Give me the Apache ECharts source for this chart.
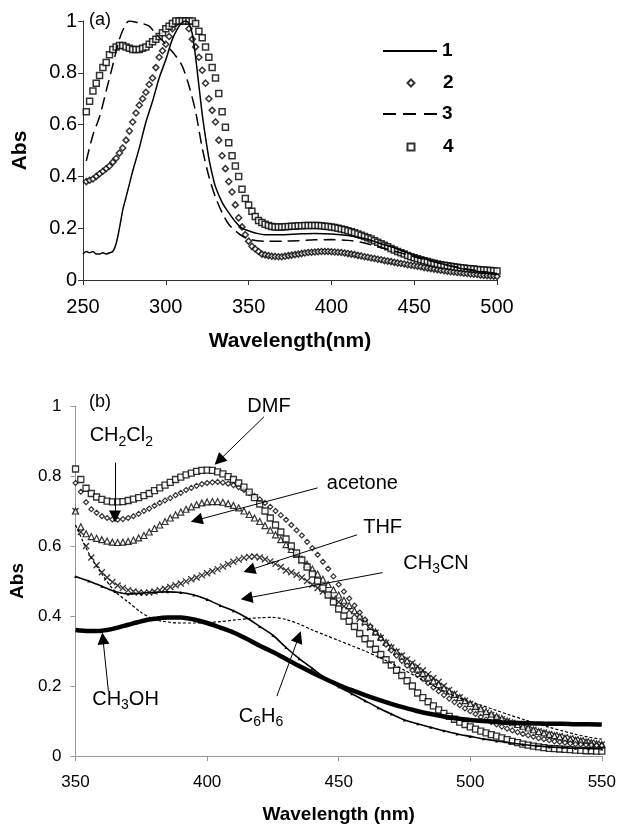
<!DOCTYPE html>
<html>
<head>
<meta charset="utf-8">
<script src="https://cdn.jsdelivr.net/npm/echarts@6/dist/echarts.min.js"></script>
<style>
html, body { margin: 0; padding: 0; background: #fff; }
#main { width: 619px; height: 825px; }
</style>
</head>
<body>
<div id="main"></div>
<script>
// ---- panel (a): absorbance of compounds 1-4 ----
var wlA = [252,254,256,258,260,262,264,266,268,270,272,274,276,278,280,282,284,286,288,290,
  292,294,296,298,300,302,304,306,308,310,312,314,316,318,320,322,324,326,328,330,
  332,334,336,338,340,342,344,346,348,350,352,354,356,358,360,362,364,366,368,370,
  372,374,376,378,380,382,384,386,388,390,392,394,396,398,400,402,404,406,408,410,
  412,414,416,418,420,422,424,426,428,430,432,434,436,438,440,442,444,446,448,450,
  452,454,456,458,460,462,464,466,468,470,472,474,476,478,480,482,484,486,488,490,
  492,494,496,498,500];
var abs2 = [0.38,0.385,0.39,0.40,0.41,0.42,0.43,0.44,0.455,0.47,
  0.49,0.51,0.54,0.575,0.61,0.645,0.675,0.70,0.725,0.755,
  0.78,0.82,0.86,0.885,0.91,0.94,0.97,0.99,1.0,1.0,
  1.0,0.97,0.93,0.90,0.86,0.81,0.76,0.70,0.655,0.61,
  0.54,0.48,0.43,0.38,0.34,0.29,0.24,0.205,0.175,0.15,
  0.13,0.12,0.11,0.10,0.097,0.094,0.092,0.091,0.09,0.09,
  0.092,0.094,0.096,0.098,0.10,0.102,0.104,0.106,0.107,0.108,
  0.109,0.11,0.11,0.11,0.109,0.108,0.107,0.106,0.104,0.102,
  0.10,0.098,0.095,0.093,0.09,0.088,0.085,0.083,0.08,0.078,
  0.075,0.073,0.071,0.068,0.066,0.064,0.062,0.059,0.057,0.055,
  0.053,0.051,0.048,0.046,0.044,0.042,0.04,0.038,0.036,0.034,
  0.032,0.031,0.029,0.028,0.026,0.025,0.023,0.022,0.021,0.019,
  0.018,0.017,0.016,0.015,0.014];
var abs4 = [0.65,0.69,0.73,0.76,0.79,0.82,0.84,0.87,0.89,0.90,
  0.905,0.905,0.90,0.895,0.89,0.89,0.89,0.895,0.90,0.91,
  0.92,0.93,0.94,0.955,0.97,0.98,0.99,1.0,1.0,1.0,
  1.0,1.0,1.0,0.99,0.96,0.935,0.90,0.86,0.82,0.78,
  0.72,0.65,0.59,0.53,0.48,0.44,0.40,0.35,0.315,0.29,
  0.265,0.245,0.23,0.222,0.215,0.21,0.207,0.205,0.205,0.205,
  0.206,0.207,0.208,0.208,0.209,0.209,0.21,0.21,0.21,0.21,
  0.21,0.209,0.208,0.207,0.205,0.203,0.20,0.197,0.194,0.19,
  0.186,0.182,0.178,0.173,0.168,0.163,0.158,0.152,0.146,0.14,
  0.134,0.128,0.122,0.116,0.11,0.105,0.10,0.095,0.09,0.086,
  0.082,0.078,0.074,0.071,0.068,0.065,0.062,0.059,0.057,0.055,
  0.053,0.051,0.049,0.047,0.046,0.044,0.043,0.042,0.041,0.04,
  0.039,0.038,0.037,0.036,0.035];
var wl1 = [250,252,254,256,258,260,262,264,266,268,270,272,274,276,278,280,
  284,288,292,296,300,304,308,310,312,314,316,318,320,322,324,326,328,330,
  334,338,342,346,350,355,360,370,380,390,400,410,420,430,440,450,460,470,480,490,500];
var abs1 = [0.10,0.11,0.105,0.11,0.10,0.10,0.105,0.10,0.105,0.11,0.14,0.20,0.27,0.32,0.37,0.42,
  0.51,0.61,0.69,0.78,0.85,0.93,0.98,0.995,1.0,0.99,0.95,0.86,0.75,0.64,0.55,0.47,0.41,0.36,
  0.30,0.26,0.225,0.20,0.19,0.18,0.175,0.175,0.178,0.18,0.178,0.172,0.16,0.14,0.12,0.095,0.075,0.057,0.042,0.032,0.025];
var wl3 = [252,256,260,264,268,272,276,278,282,286,290,294,298,302,306,310,314,318,322,326,
  330,334,338,342,346,350,355,360,370,380,390,400,410,420,430,440,450,460,470,480,490,500];
var abs3 = [0.46,0.56,0.63,0.73,0.83,0.93,0.99,1.0,0.995,0.99,0.98,0.95,0.925,0.895,0.865,0.825,0.75,0.65,0.51,0.40,
  0.32,0.26,0.215,0.19,0.17,0.158,0.152,0.15,0.15,0.152,0.155,0.156,0.153,0.143,0.125,0.108,0.09,0.073,0.058,0.045,0.034,0.025];

// ---- panel (b): absorbance in different solvents ----
var wlB = [350,352,354,356,358,360,362,364,366,368,370,372,374,376,378,380,382,384,386,388,
  390,392,394,396,398,400,402,404,406,408,410,412,414,416,418,420,422,424,426,428,
  430,432,434,436,438,440,442,444,446,448,450,452,454,456,458,460,462,464,466,468,
  470,472,474,476,478,480,482,484,486,488,490,492,494,496,498,500,502,504,506,508,
  510,512,514,516,518,520,522,524,526,528,530,532,534,536,538,540,542,544,546,548,550];
var dmf = [0.82,0.79,0.765,0.75,0.74,0.733,0.728,0.726,0.726,0.727,
  0.73,0.734,0.738,0.744,0.75,0.758,0.766,0.774,0.782,0.79,
  0.797,0.803,0.808,0.813,0.816,0.817,0.816,0.812,0.806,0.798,
  0.79,0.78,0.768,0.754,0.738,0.72,0.70,0.68,0.66,0.64,
  0.62,0.60,0.58,0.56,0.54,0.52,0.50,0.48,0.46,0.44,
  0.42,0.40,0.385,0.37,0.35,0.335,0.32,0.305,0.29,0.275,
  0.26,0.245,0.23,0.215,0.20,0.18,0.167,0.155,0.143,0.132,
  0.122,0.113,0.105,0.097,0.09,0.083,0.077,0.071,0.066,0.061,
  0.057,0.052,0.047,0.042,0.038,0.034,0.031,0.028,0.026,0.024,
  0.022,0.021,0.02,0.019,0.018,0.017,0.016,0.015,0.015,0.014,0.014];
var ch2cl2 = [0.78,0.755,0.725,0.705,0.695,0.685,0.68,0.676,0.675,0.677,
  0.68,0.685,0.692,0.70,0.707,0.715,0.723,0.73,0.737,0.745,
  0.752,0.76,0.766,0.772,0.777,0.78,0.782,0.783,0.781,0.778,
  0.774,0.768,0.76,0.752,0.743,0.733,0.723,0.712,0.70,0.688,
  0.675,0.66,0.645,0.63,0.612,0.594,0.575,0.555,0.535,0.513,
  0.49,0.47,0.45,0.43,0.41,0.39,0.37,0.352,0.335,0.318,
  0.302,0.287,0.272,0.258,0.245,0.232,0.22,0.208,0.196,0.185,
  0.174,0.164,0.154,0.145,0.136,0.128,0.12,0.112,0.104,0.097,
  0.09,0.084,0.078,0.073,0.068,0.063,0.059,0.055,0.051,0.048,
  0.045,0.042,0.04,0.038,0.036,0.034,0.033,0.032,0.031,0.03,0.03];
var acetone = [0.70,0.655,0.635,0.627,0.622,0.618,0.614,0.611,0.61,0.611,
  0.613,0.617,0.623,0.63,0.64,0.65,0.66,0.67,0.68,0.689,
  0.697,0.705,0.712,0.718,0.723,0.726,0.727,0.727,0.725,0.721,
  0.716,0.709,0.70,0.69,0.68,0.67,0.658,0.645,0.632,0.618,
  0.604,0.59,0.576,0.562,0.548,0.534,0.52,0.505,0.49,0.475,
  0.46,0.445,0.43,0.415,0.40,0.385,0.37,0.355,0.34,0.325,
  0.311,0.298,0.285,0.272,0.26,0.248,0.236,0.225,0.214,0.204,
  0.194,0.185,0.176,0.167,0.158,0.15,0.142,0.135,0.127,0.12,
  0.113,0.107,0.1,0.095,0.09,0.085,0.08,0.075,0.07,0.066,
  0.062,0.058,0.055,0.051,0.048,0.045,0.043,0.04,0.038,0.035,0.033];
var thf = [0.70,0.64,0.60,0.567,0.545,0.525,0.51,0.497,0.487,0.48,
  0.474,0.47,0.467,0.466,0.467,0.47,0.474,0.478,0.483,0.488,
  0.493,0.499,0.505,0.51,0.516,0.522,0.528,0.534,0.541,0.548,
  0.555,0.561,0.566,0.569,0.57,0.567,0.562,0.556,0.549,0.54,
  0.53,0.525,0.518,0.51,0.50,0.49,0.48,0.47,0.46,0.45,
  0.44,0.428,0.416,0.404,0.392,0.38,0.366,0.352,0.338,0.324,
  0.31,0.298,0.287,0.276,0.266,0.256,0.245,0.234,0.223,0.212,
  0.20,0.189,0.178,0.168,0.158,0.149,0.14,0.132,0.124,0.117,
  0.11,0.105,0.1,0.095,0.09,0.085,0.08,0.075,0.071,0.067,
  0.063,0.06,0.057,0.054,0.051,0.048,0.045,0.042,0.039,0.036,0.033];
var wlB5 = [350,355,360,365,370,375,380,385,390,395,400,405,410,415,420,425,430,435,440,445,
  450,455,460,465,470,475,480,485,490,495,500,505,510,515,520,525,530,535,540,545,550];
var ch3cn = [0.513,0.50,0.485,0.47,0.463,0.465,0.468,0.469,0.467,0.46,0.447,0.43,0.415,0.395,0.37,0.345,0.31,0.278,0.25,0.222,
  0.198,0.178,0.158,0.138,0.12,0.103,0.092,0.082,0.072,0.063,0.056,0.049,0.043,0.038,0.033,0.029,0.026,0.024,0.022,0.021,0.02];
var c6h6 = [0.66,0.58,0.52,0.47,0.44,0.41,0.39,0.383,0.38,0.38,0.381,0.384,0.388,0.392,0.395,0.396,0.39,0.377,0.36,0.345,
  0.33,0.315,0.30,0.283,0.265,0.245,0.225,0.205,0.185,0.168,0.155,0.143,0.13,0.117,0.105,0.093,0.082,0.072,0.062,0.054,0.048];
var ch3oh = [0.36,0.357,0.358,0.365,0.375,0.385,0.392,0.396,0.396,0.39,0.38,0.367,0.353,0.335,0.315,0.297,0.277,0.257,0.238,0.22,
  0.203,0.188,0.174,0.161,0.149,0.138,0.128,0.12,0.113,0.107,0.103,0.1,0.097,0.095,0.094,0.093,0.092,0.092,0.091,0.091,0.09];

// labels and arrows of panel (b), in data units [wavelength, abs]
var noteText = ['DMF', 'CH2Cl2', 'acetone', 'THF', 'CH3CN', 'CH3OH', 'C6H6'];
var notePos = [[423.5, 0.998], [367.4, 0.915], [459, 0.778], [466.7, 0.652], [487, 0.55], [369, 0.162], [420.5, 0.114]];
var arrowFrom = [[421.6, 0.969], [365, 0.838], [442, 0.766], [457, 0.632], [466.7, 0.524], [362.5, 0.185], [426.5, 0.171]];
var arrowTo = [[404.5, 0.844], [365, 0.684], [396, 0.674], [416, 0.531], [415, 0.451], [360.4, 0.336], [434.8, 0.34]];

var FONT = '"Liberation Sans", Arial, sans-serif';
var ICON_SOLID = 'path://M0,0h54v2h-54z';
var ICON_DASH = 'path://M0,0h13v2h-13zM20,0h13v2h-13zM41,0h13v2h-13z';

function pairs(xs, ys) {
    var out = [];
    for (var i = 0; i < ys.length; i++) {
        out.push([xs[i], ys[i]]);
    }
    return out;
}

// turn "CH2Cl2" into rich text with subscript digits
function chem(s) {
    return s.replace(/([A-Za-z]+)|(\d+)/g, function (m, letters, digits) {
        return letters ? '{n|' + letters + '}' : '{s|' + digits + '}';
    });
}

function legendItem(name, icon, top, isSymbol) {
    return {
        data: [{ name: name, icon: icon }],
        orient: 'vertical',
        padding: 0,
        left: isSymbol ? 406.5 : 383,
        top: top,
        itemWidth: isSymbol ? 7 : 54,
        itemHeight: isSymbol ? 7 : 2,
        selectedMode: false,
        textStyle: {
            fontFamily: FONT, fontWeight: 'bold', fontSize: 19, color: '#000',
            padding: isSymbol ? [0, 0, 0, 23.5] : 0
        }
    };
}

var myChart = echarts.init(document.getElementById('main'));

var markLines = [];
var markPoints = [];
for (var i = 0; i < noteText.length; i++) {
    markLines.push([{ coord: arrowFrom[i] }, { coord: arrowTo[i] }]);
    markPoints.push({ coord: notePos[i], label: { formatter: chem(noteText[i]) } });
}

var axisA = { color: '#333' };
var axisB = { color: '#999' };

myChart.setOption({
    animation: false,
    textStyle: { fontFamily: FONT },
    grid: [
        { left: 83, top: 21, width: 414, height: 259 },
        { left: 74, top: 406, width: 528, height: 351 }
    ],
    legend: [
        legendItem('1', ICON_SOLID, 41.5, false),
        legendItem('2', 'diamond', 73.5, true),
        legendItem('3', ICON_DASH, 104.5, false),
        legendItem('4', 'rect', 137.5, true)
    ],
    graphic: [
        { type: 'text', left: 89, top: 11, style: { text: '(a)', font: '18px ' + FONT, fill: '#000' } },
        { type: 'text', left: 89, top: 393, style: { text: '(b)', font: '18px ' + FONT, fill: '#000' } }
    ],
    xAxis: [{
        gridIndex: 0, type: 'value', min: 250, max: 500, interval: 50,
        name: 'Wavelength(nm)', nameLocation: 'middle', nameGap: 51,
        nameTextStyle: { fontFamily: FONT, fontWeight: 'bold', fontSize: 21, color: '#000' },
        axisLine: { lineStyle: axisA }, axisTick: { lineStyle: axisA },
        axisLabel: { fontFamily: FONT, fontSize: 20, color: '#000', margin: 17 },
        splitLine: { show: false }
    }, {
        gridIndex: 1, type: 'value', min: 350, max: 550, interval: 50,
        name: 'Wavelength (nm)', nameLocation: 'middle', nameGap: 49,
        nameTextStyle: { fontFamily: FONT, fontWeight: 'bold', fontSize: 19, color: '#000' },
        axisLine: { lineStyle: axisB }, axisTick: { lineStyle: axisB },
        axisLabel: { fontFamily: FONT, fontSize: 17, color: '#000', margin: 18 },
        splitLine: { show: false }
    }],
    yAxis: [{
        gridIndex: 0, type: 'value', min: 0, max: 1, interval: 0.2,
        name: 'Abs', nameLocation: 'middle', nameGap: 52,
        nameTextStyle: { fontFamily: FONT, fontWeight: 'bold', fontSize: 21, color: '#000' },
        axisLine: { show: true, lineStyle: axisA }, axisTick: { show: true, lineStyle: axisA },
        axisLabel: { fontFamily: FONT, fontSize: 20, color: '#000', margin: 6 },
        splitLine: { show: false }
    }, {
        gridIndex: 1, type: 'value', min: 0, max: 1, interval: 0.2,
        name: 'Abs', nameLocation: 'middle', nameGap: 45,
        nameTextStyle: { fontFamily: FONT, fontWeight: 'bold', fontSize: 19, color: '#000' },
        axisLine: { show: true, lineStyle: axisB }, axisTick: { show: true, lineStyle: axisB },
        axisLabel: { fontFamily: FONT, fontSize: 17, color: '#000', margin: 14 },
        splitLine: { show: false }
    }],
    series: [
        {
            name: '1', type: 'line', xAxisIndex: 0, yAxisIndex: 0, symbol: 'none', smooth: 0.3,
            lineStyle: { color: '#000', width: 1.5 }, itemStyle: { color: '#000' },
            data: pairs(wl1, abs1)
        },
        {
            name: '2', type: 'scatter', xAxisIndex: 0, yAxisIndex: 0, symbol: 'diamond', symbolSize: 6,
            itemStyle: { color: '#fff', borderColor: '#000', borderWidth: 1.5 },
            data: pairs(wlA, abs2)
        },
        {
            name: '3', type: 'line', xAxisIndex: 0, yAxisIndex: 0, symbol: 'none', smooth: 0.3,
            lineStyle: { color: '#000', width: 1.5, type: [12, 6] }, itemStyle: { color: '#000' },
            data: pairs(wl3, abs3)
        },
        {
            name: '4', type: 'scatter', xAxisIndex: 0, yAxisIndex: 0, symbol: 'rect', symbolSize: 6,
            itemStyle: { color: '#fff', borderColor: '#000', borderWidth: 1.5 },
            data: pairs(wlA, abs4)
        },
        {
            name: 'CH3OH', type: 'line', xAxisIndex: 1, yAxisIndex: 1, symbol: 'none', smooth: 0.3,
            lineStyle: { color: '#000', width: 4.5 },
            data: pairs(wlB5, ch3oh)
        },
        {
            name: 'C6H6', type: 'line', xAxisIndex: 1, yAxisIndex: 1, symbol: 'none', smooth: 0.3,
            lineStyle: { color: '#000', width: 1.2, type: [3, 2] },
            data: pairs(wlB5, c6h6)
        },
        {
            name: 'CH3CN', type: 'line', xAxisIndex: 1, yAxisIndex: 1, symbol: 'triangle', symbolSize: 3,
            showSymbol: true, smooth: 0.3,
            lineStyle: { color: '#000', width: 1.6 }, itemStyle: { color: '#000' },
            data: pairs(wlB5, ch3cn)
        },
        {
            name: 'THF', type: 'scatter', xAxisIndex: 1, yAxisIndex: 1,
            symbol: 'path://M0,0L10,10M10,0L0,10', symbolSize: 6,
            itemStyle: { color: 'none', borderColor: '#000', borderWidth: 1.3 },
            data: pairs(wlB, thf)
        },
        {
            name: 'acetone', type: 'scatter', xAxisIndex: 1, yAxisIndex: 1, symbol: 'triangle', symbolSize: 6,
            itemStyle: { color: '#fff', borderColor: '#000', borderWidth: 1.2 },
            data: pairs(wlB, acetone)
        },
        {
            name: 'CH2Cl2', type: 'scatter', xAxisIndex: 1, yAxisIndex: 1, symbol: 'diamond', symbolSize: 5,
            itemStyle: { color: '#fff', borderColor: '#000', borderWidth: 1.2 },
            data: pairs(wlB, ch2cl2)
        },
        {
            name: 'DMF', type: 'scatter', xAxisIndex: 1, yAxisIndex: 1, symbol: 'rect', symbolSize: 6,
            itemStyle: { color: '#fff', borderColor: '#000', borderWidth: 1.3 },
            data: pairs(wlB, dmf),
            markLine: {
                silent: true,
                symbol: ['none', 'triangle'],
                symbolSize: 12,
                label: { show: false },
                lineStyle: { color: '#000', width: 1, type: 'solid' },
                itemStyle: { color: '#000' },
                data: markLines
            },
            markPoint: {
                silent: true,
                symbol: 'circle',
                symbolSize: 0,
                label: {
                    show: true, position: 'inside', color: '#000',
                    rich: {
                        n: { fontFamily: FONT, fontSize: 20, lineHeight: 26, color: '#000' },
                        s: { fontFamily: FONT, fontSize: 14, lineHeight: 26, verticalAlign: 'bottom', color: '#000' }
                    }
                },
                data: markPoints
            }
        }
    ]
});
</script>
</body>
</html>
